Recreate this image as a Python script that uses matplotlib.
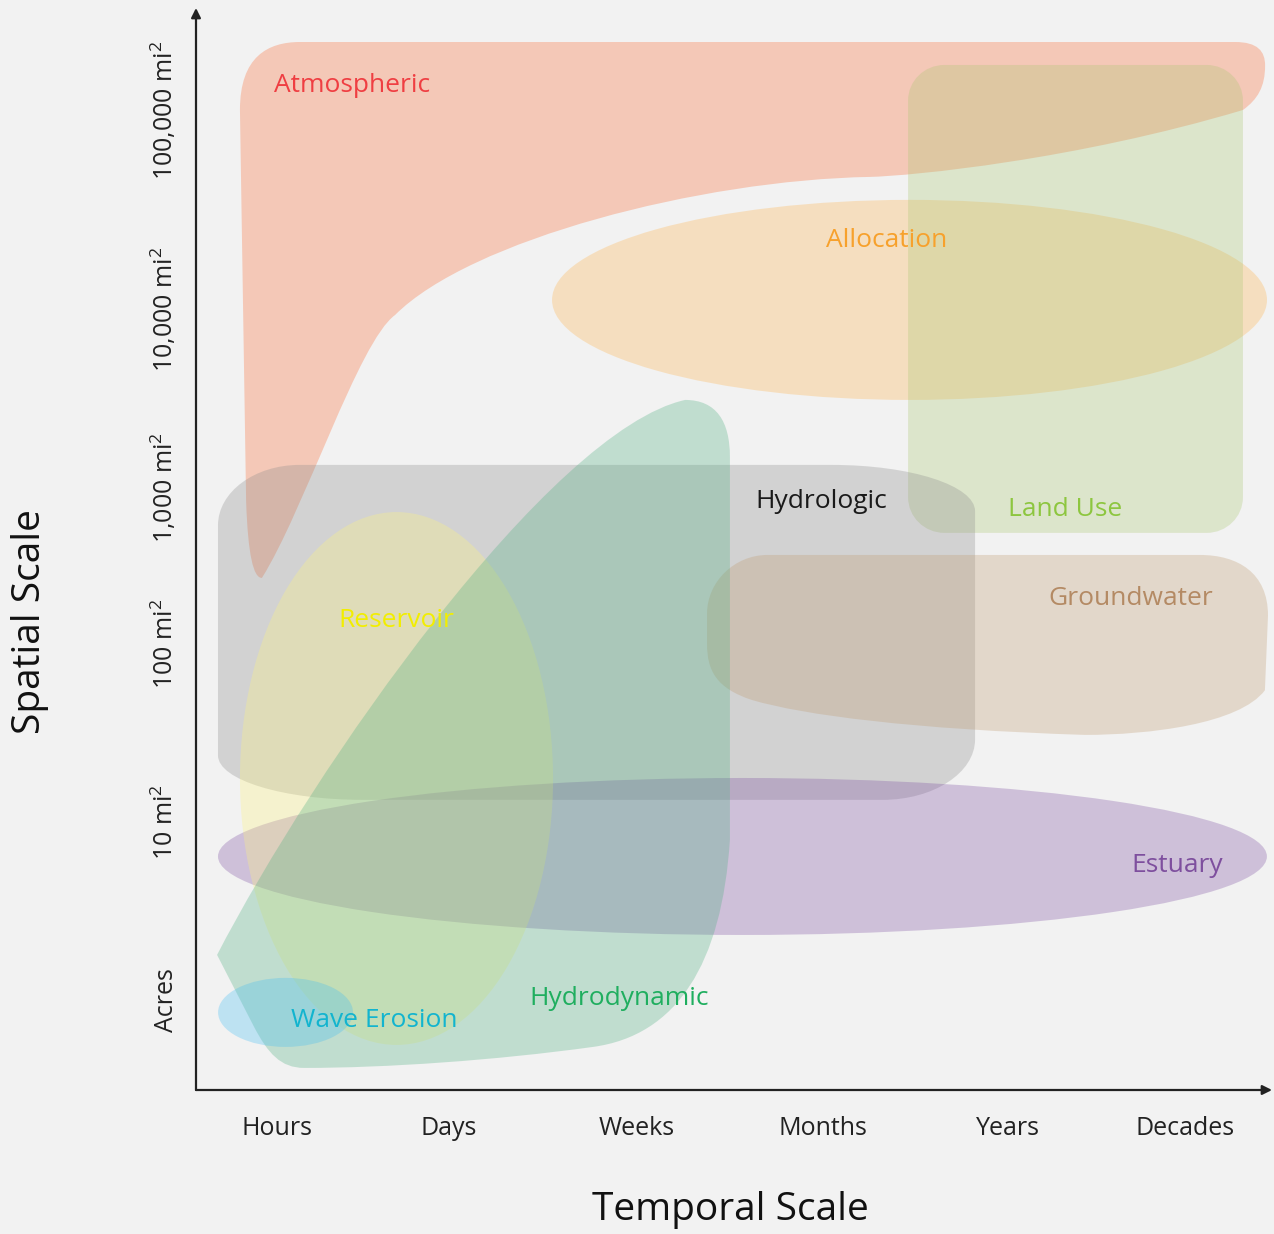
import matplotlib
matplotlib.use("Agg")
import matplotlib.pyplot as plt
from matplotlib.path import Path
from matplotlib.patches import PathPatch, Ellipse

plt.rcParams['font.family'] = ['Open Sans', 'DejaVu Sans']
plt.rcParams['mathtext.fontset'] = 'custom'
plt.rcParams['mathtext.rm'] = 'Open Sans'
plt.rcParams['mathtext.it'] = 'Open Sans'

BG = '#f2f2f2'
INK = '#222222'

# axes: temporal scale (x) and spatial scale (y), one unit per class
x_labels = ['Hours', 'Days', 'Weeks', 'Months', 'Years', 'Decades']
x_pos = [0, 0.947, 1.982, 3.007, 4.026, 5.0]
y_labels = ['Acres', r'10 mi$^2$', r'100 mi$^2$', r'1,000 mi$^2$',
            r'10,000 mi$^2$', r'100,000 mi$^2$']
y_pos = [0, 1.0, 2.0, 2.88, 3.88, 5.0]

# free-form regions: start point + segments (1 point = line, 3 points = curve)
atmos_start = (-0.204, 5.0)
atmos_segs = [
    [(-0.204, 5.30), (-0.05, 5.382), (0.127, 5.382)],
    [(5.275, 5.382)],
    [(5.40, 5.382), (5.441, 5.33), (5.441, 5.25)],
    [(5.441, 5.13), (5.40, 5.06), (5.319, 5.0)],
    [(4.4, 4.72), (3.5, 4.63), (3.265, 4.624)],
    [(2.329, 4.607), (1.063, 4.27), (0.65, 3.848)],
    [(0.45, 3.70), (0.15, 2.75), (-0.083, 2.371)],
    [(-0.13, 2.37), (-0.16, 2.5), (-0.17, 2.8)],
]
hydro_start = (-0.33, 0.253)
hydro_segs = [
    [(0.2, 1.3), (1.5, 3.2), (2.247, 3.371)],
    [(2.42, 3.371), (2.494, 3.25), (2.494, 3.05)],
    [(2.494, 0.9)],
    [(2.45, 0.2), (2.2, -0.2), (1.74, -0.264)],
    [(1.2, -0.34), (0.6, -0.382), (0.15, -0.382)],
    [(0.02, -0.382), (-0.05, -0.3), (-0.127, -0.15)],
]
ground_start = (2.368, 2.17)
ground_segs = [
    [(2.368, 2.35), (2.52, 2.5), (2.70, 2.5)],
    [(5.083, 2.5)],
    [(5.29, 2.5), (5.457, 2.40), (5.457, 2.16)],
    [(5.44, 1.74)],
    [(5.3, 1.55), (4.8, 1.489), (4.449, 1.489)],
    [(3.5, 1.52), (2.9, 1.6), (2.616, 1.685)],
    [(2.42, 1.75), (2.368, 1.85), (2.368, 2.0)],
]

# rounded boxes: x0, x1, y0, y1, corners (rx, ry) tl, tr, br, bl
landuse_box = (3.475, 5.319, 2.624, 5.253, [(0.2, 0.2)] * 4)
hydrologic_box = (-0.325, 3.844, 1.124, 3.006,
                  [(0.45, 0.34), (0.79, 0.26), (0.51, 0.34), (0.8, 0.25)])

# ellipses: center x, center y, width, height
alloc_ell = (3.483, 3.933, 3.937, 1.124)
reservoir_ell = (0.658, 1.244, 1.724, 2.994)
estuary_ell = (2.563, 0.806, 5.776, 0.882)
wave_ell = (0.047, -0.070, 0.743, 0.388)

colors = {
    'Atmospheric': '#f96931', 'Allocation': '#ffb34b', 'Land Use': '#acc773',
    'Hydrologic': '#8b8b8b', 'Groundwater': '#c09b70', 'Reservoir': '#fff57d',
    'Hydrodynamic': '#4faf81', 'Estuary': '#7d4fa2', 'Wave Erosion': '#45bdf2',
}

labels = ['Atmospheric', 'Allocation', 'Hydrologic', 'Land Use', 'Groundwater',
          'Reservoir', 'Estuary', 'Hydrodynamic', 'Wave Erosion']
label_x = [0.413, 3.359, 2.996, 4.339, 4.703, 0.655, 4.956, 1.883, 0.534]
label_y = [5.140, 4.264, 2.803, 2.758, 2.258, 2.129, 0.753, 0.006, -0.118]
label_colors = ['#ef3e42', '#f7a12c', '#1a1a1a', '#8dc63f', '#b48a64',
                '#f2ee00', '#7e4f9e', '#1fae5f', '#12b4cf']

K = 0.5523


def free_path(start, segs):
    verts = [start]
    codes = [Path.MOVETO]
    for s in segs:
        verts += s
        codes += [Path.LINETO] if len(s) == 1 else [Path.CURVE4] * 3
    verts.append(start)
    codes.append(Path.CLOSEPOLY)
    return Path(verts, codes)


def box_path(x0, x1, y0, y1, c):
    (a, b), (e, f), (g, h), (m, n) = c
    segs = [
        [(x0, y1 - b + K * b), (x0 + a - K * a, y1), (x0 + a, y1)],
        [(x1 - e, y1)],
        [(x1 - e + K * e, y1), (x1, y1 - f + K * f), (x1, y1 - f)],
        [(x1, y0 + h)],
        [(x1, y0 + h - K * h), (x1 - g + K * g, y0), (x1 - g, y0)],
        [(x0 + m, y0)],
        [(x0 + m - K * m, y0), (x0, y0 + n - K * n), (x0, y0 + n)],
    ]
    return free_path((x0, y1 - b), segs)


fig = plt.figure(figsize=(12.74, 12.34), dpi=100, facecolor=BG)
ax = fig.add_axes([196 / 1274, 144 / 1234, 1076 / 1274, 1082 / 1234])
ax.set_facecolor(BG)
ax.set_xlim(-0.446, 5.479)
ax.set_ylim(-0.506, 5.573)

A = 0.3
ax.add_patch(PathPatch(free_path(atmos_start, atmos_segs), fc=colors['Atmospheric'], ec='none', alpha=A))
ax.add_patch(Ellipse(alloc_ell[:2], alloc_ell[2], alloc_ell[3], fc=colors['Allocation'], ec='none', alpha=A))
ax.add_patch(PathPatch(box_path(*landuse_box), fc=colors['Land Use'], ec='none', alpha=A))
ax.add_patch(PathPatch(box_path(*hydrologic_box), fc=colors['Hydrologic'], ec='none', alpha=A))
ax.add_patch(PathPatch(free_path(ground_start, ground_segs), fc=colors['Groundwater'], ec='none', alpha=A))
ax.add_patch(Ellipse(estuary_ell[:2], estuary_ell[2], estuary_ell[3], fc=colors['Estuary'], ec='none', alpha=A))
ax.add_patch(Ellipse(reservoir_ell[:2], reservoir_ell[2], reservoir_ell[3], fc=colors['Reservoir'], ec='none', alpha=A))
ax.add_patch(PathPatch(free_path(hydro_start, hydro_segs), fc=colors['Hydrodynamic'], ec='none', alpha=A))
ax.add_patch(Ellipse(wave_ell[:2], wave_ell[2], wave_ell[3], fc=colors['Wave Erosion'], ec='none', alpha=A))

for t, x, y, c in zip(labels, label_x, label_y, label_colors):
    ax.text(x, y, t, color=c, fontsize=19, ha='center', va='center')

for s in ax.spines.values():
    s.set_visible(False)
ax.annotate('', xy=(0, 1), xytext=(0, 0), xycoords='axes fraction',
            arrowprops=dict(arrowstyle='-|>', lw=1.6, color=INK, mutation_scale=14,
                            shrinkA=0, shrinkB=0))
ax.annotate('', xy=(1, 0), xytext=(0, 0), xycoords='axes fraction',
            arrowprops=dict(arrowstyle='-|>', lw=1.6, color=INK, mutation_scale=14,
                            shrinkA=0, shrinkB=0))

ax.set_xticks(x_pos)
ax.set_xticklabels(x_labels, fontsize=18, color=INK)
ax.set_yticks(y_pos)
ax.set_yticklabels(y_labels, fontsize=18, color=INK, rotation=90, va='center')
ax.tick_params(length=0)
ax.tick_params(axis='x', pad=19)
ax.tick_params(axis='y', pad=12)

fig.text(730 / 1274, 1 - 1210 / 1234, 'Temporal Scale', fontsize=28, color='#111111',
         ha='center', va='center')
fig.text(30 / 1274, 1 - 622 / 1234, 'Spatial Scale', fontsize=28, color='#111111',
         ha='center', va='center', rotation=90)

fig.savefig('out.png', dpi=100, facecolor=BG)
